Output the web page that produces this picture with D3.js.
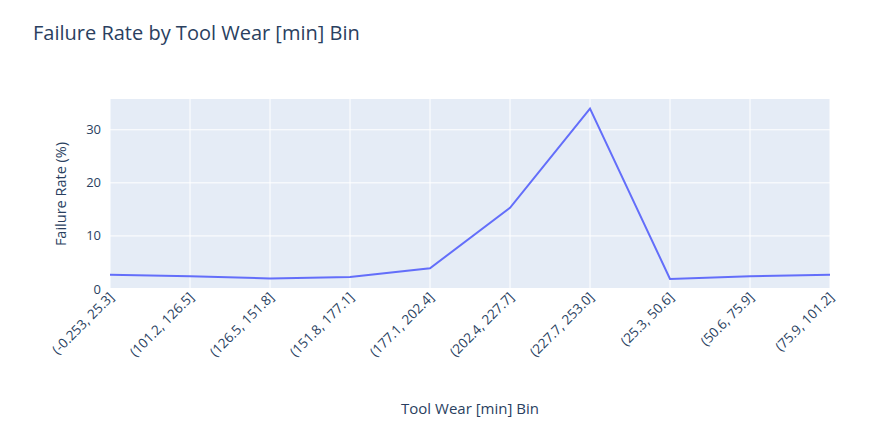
<!DOCTYPE html>
<html><head><meta charset="utf-8">
<script src="https://cdn.jsdelivr.net/npm/d3@7"></script>
<style>body{margin:0;background:#fff;font-family:"Open Sans",sans-serif;}</style>
</head><body>
<script>
const categories = ["(-0.253, 25.3]","(101.2, 126.5]","(126.5, 151.8]","(151.8, 177.1]","(177.1, 202.4]","(202.4, 227.7]","(227.7, 253.0]","(25.3, 50.6]","(50.6, 75.9]","(75.9, 101.2]"];
const failureRate = [2.7, 2.4, 2.0, 2.25, 3.9, 15.3, 34.0, 1.9, 2.4, 2.7];
const yTicks = [0, 10, 20, 30];

const margin = {top: 99, right: 46, bottom: 135, left: 110};
const W = 876, H = 424;
const w = W - margin.left - margin.right, h = H - margin.top - margin.bottom;

const svg = d3.select("body").append("svg").attr("width", W).attr("height", H);
svg.append("text").attr("x", 33).attr("y", 40).attr("font-size", 20).attr("fill", "#2a3f5f").text("Failure Rate by Tool Wear [min] Bin");

const g = svg.append("g").attr("transform", "translate(" + margin.left + "," + margin.top + ")");
g.append("rect").attr("width", w).attr("height", h).attr("fill", "#e5ecf6");

const x = d3.scalePoint().domain(categories).range([0, w]);
const y = d3.scaleLinear().domain([0, 35.8]).range([h, 0]);

g.selectAll(".vg").data(categories).join("line").attr("x1", d => x(d)).attr("x2", d => x(d))
  .attr("y1", 0).attr("y2", h).attr("stroke", "#fff").attr("stroke-width", 1);
g.selectAll(".hg").data(yTicks).join("line").attr("x1", 0).attr("x2", w)
  .attr("y1", d => y(d)).attr("y2", d => y(d)).attr("stroke", "#fff").attr("stroke-width", d => d === 0 ? 2 : 1);

g.selectAll(".yl").data(yTicks).join("text").attr("x", -9).attr("y", d => y(d)).attr("dy", "0.35em")
  .attr("text-anchor", "end").attr("font-size", 13).attr("fill", "#2a3f5f").text(d => d);

g.append("path").datum(failureRate)
  .attr("d", d3.line().x((d, i) => x(categories[i])).y(d => y(d)))
  .attr("fill", "none").attr("stroke", "#636efa").attr("stroke-width", 2);

g.selectAll(".xl").data(categories).join("text")
  .attr("transform", d => "translate(" + (x(d) + 5) + "," + (h + 9) + ") rotate(-45)")
  .attr("text-anchor", "end").attr("font-size", 13.5).attr("fill", "#2a3f5f").text(d => d);

svg.append("text").attr("transform", "translate(66," + (margin.top + h / 2) + ") rotate(-90)")
  .attr("text-anchor", "middle").attr("font-size", 14.5).attr("fill", "#2a3f5f").text("Failure Rate (%)");
svg.append("text").attr("x", margin.left + w / 2).attr("y", 414).attr("text-anchor", "middle")
  .attr("font-size", 15).attr("fill", "#2a3f5f").text("Tool Wear [min] Bin");
</script>
</body></html>
